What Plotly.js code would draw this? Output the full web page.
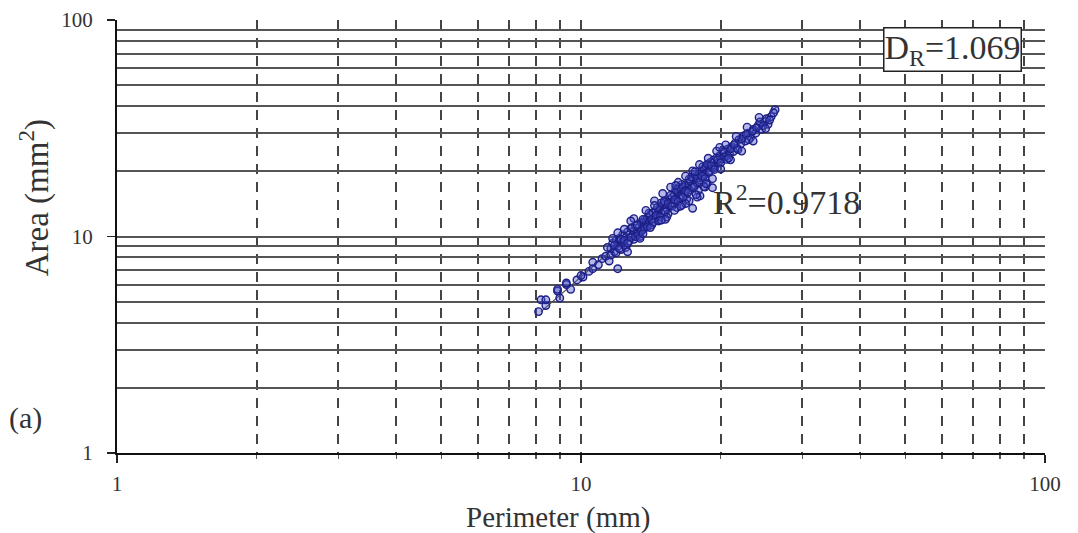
<!DOCTYPE html>
<html>
<head>
<meta charset="utf-8">
<script src="https://cdn.plot.ly/plotly-3.0.1.min.js"></script>
<style>html,body{margin:0;padding:0;background:#fff;}#chart{width:1078px;height:533px;}</style>
</head>
<body>
<div id="chart"></div>
<script>
// Scatter data: perimeter (mm) and area (mm^2)
const perimeter = [
  8.1, 8.2, 8.4, 8.9, 9.0, 9.3, 9.5, 9.8, 10.1, 10.4, 10.6, 10.9, 11.1, 11.3, 11.5,
  11.6, 11.7, 11.8, 11.9, 12.0, 12.0, 12.1, 12.2, 12.3, 12.3, 12.4, 12.5, 12.6, 12.7, 12.8,
  12.9, 13.0, 13.0, 13.1, 13.2, 13.3, 13.4, 13.5, 13.6, 13.7, 13.8, 13.8, 13.9, 14.0, 14.1,
  14.2, 14.3, 14.4, 14.5, 14.6, 14.7, 14.8, 14.9, 15.0, 15.1, 15.2, 15.3, 15.4, 15.5, 15.6,
  15.7, 15.8, 15.9, 16.0, 16.1, 16.2, 16.3, 16.4, 16.5, 16.6, 16.7, 16.8, 16.9, 17.0, 17.1,
  17.2, 17.3, 17.4, 17.5, 17.6, 17.7, 17.8, 17.9, 18.0, 18.05, 18.1, 18.2, 18.3, 18.4, 18.5,
  18.6, 18.7, 18.8, 18.9, 19.0, 19.2, 19.3, 19.5, 19.6, 19.8, 19.9,
  20.1, 20.3, 20.5, 20.7, 20.9, 21.1, 21.3, 21.5, 21.7, 21.9, 22.1, 22.4, 22.6, 22.9, 23.2,
  23.5, 23.8, 24.1, 24.5, 24.9, 25.3, 25.7, 26.2,
  11.4, 11.6, 11.8, 11.9, 12.1, 12.2, 12.4, 12.5, 12.6, 12.8, 12.9, 13.1, 13.2, 13.3, 13.5,
  13.6, 13.7, 13.9, 14.0, 14.2, 14.3, 14.5, 14.6, 14.8, 14.9, 15.1, 15.2, 15.4, 15.6, 15.7,
  15.9, 16.0, 16.2, 16.3, 16.5, 16.6, 16.8, 17.0, 17.1, 17.3, 17.5, 17.6, 17.8, 18.0, 18.2,
  18.3, 18.5, 18.7, 18.9, 19.1, 19.4, 19.7, 20.0, 20.2, 20.6, 21.0, 21.4, 21.8, 22.2, 22.7,
  23.0, 23.4, 23.9, 24.3, 24.7, 25.1, 25.5, 26.0, 19.2, 18.5, 17.8, 8.4, 8.9, 9.3, 10.0, 10.6,
  12.0, 12.6, 13.0, 13.4, 13.8, 14.1, 14.4, 14.7, 15.0, 15.3, 15.6, 15.9, 16.2, 16.5, 16.8,
  17.1, 17.4, 17.7, 18.0, 18.4, 18.8, 19.2, 19.6, 20.0, 20.5, 21.0, 21.6, 22.2, 22.8, 23.5,
  24.2, 25.0, 12.8, 13.6, 14.4, 15.2, 16.0, 16.8, 17.6, 18.6, 12.4, 11.7, 19.9, 20.8, 14.9, 16.4
];
const area = [
  4.5, 5.1, 4.8, 5.6, 5.2, 6.0, 5.7, 6.3, 6.5, 6.9, 7.6, 7.4, 7.9, 8.1, 7.7,
  8.8, 9.3, 8.5, 9.6, 7.1, 9.0, 9.8, 8.7, 9.4, 10.2, 9.1, 9.9, 10.5, 9.5, 10.9,
  10.1, 10.6, 9.7, 11.2, 10.3, 11.0, 10.0, 11.6, 10.8, 11.9, 11.4, 11.7, 12.2, 11.7, 12.6,
  11.3, 12.9, 12.1, 13.2, 12.4, 11.9, 13.6, 12.8, 14.0, 13.1, 14.4, 13.5, 12.7, 14.8, 13.9,
  15.2, 14.3, 15.6, 14.7, 13.6, 16.1, 15.1, 16.5, 15.5, 16.9, 15.9, 17.3, 14.9, 17.6, 16.4,
  18.0, 16.8, 13.5, 18.5, 17.2, 19.0, 17.7, 16.3, 19.4, 15.4, 18.2, 20.0, 18.8, 20.5, 19.3,
  21.0, 17.6, 21.5, 20.1, 22.0, 20.7, 22.6, 21.3, 23.1, 22.0, 23.6,
  22.8, 24.5, 23.4, 25.3, 24.0, 26.0, 24.7, 27.0, 25.6, 28.0, 26.8, 29.1, 27.6, 30.0, 28.7,
  31.2, 30.0, 32.6, 31.3, 34.0, 33.0, 35.8, 38.5,
  8.9, 8.2, 9.1, 8.4, 8.8, 9.7, 9.6, 8.9, 9.3, 9.9, 11.0, 10.0, 11.3, 10.2, 10.6,
  12.0, 10.9, 11.1, 12.8, 12.0, 11.6, 12.5, 13.6, 12.3, 14.3, 14.5, 13.0, 14.2, 15.5, 13.8,
  14.8, 16.5, 14.5, 16.9, 17.4, 15.2, 16.2, 16.0, 18.4, 18.8, 16.9, 19.4, 18.6, 17.8, 19.0,
  21.0, 18.5, 21.6, 19.8, 21.2, 20.4, 22.6, 21.9, 25.0, 22.7, 25.4, 26.5, 25.2, 28.3, 29.6,
  28.0, 30.6, 31.8, 33.8, 32.5, 35.0, 34.5, 37.3, 16.8, 16.9, 15.2, 5.1, 5.7, 6.1, 6.6, 7.1,
  10.4, 8.5, 12.1, 9.8, 13.2, 11.0, 14.6, 11.8, 15.8, 12.3, 16.9, 13.2, 17.8, 14.0, 19.0,
  14.6, 20.1, 15.6, 21.5, 17.0, 23.0, 18.5, 24.8, 20.5, 26.5, 22.6, 29.0, 24.8, 32.0, 27.6,
  35.5, 31.5, 11.8, 10.3, 13.9, 12.0, 17.2, 14.2, 19.9, 17.5, 10.8, 9.8, 25.8, 23.0, 11.9, 13.8
];
// Fitted power-law line (end points)
const fitPerimeter = [8.2, 26.5];
const fitArea = [4.5, 40.0];

// Tick values and labels
const majorTicks = [1, 10, 100];
const majorTickLabels = ['1', '10', '100'];
const minorTicks = [2, 3, 4, 5, 6, 7, 8, 9, 20, 30, 40, 50, 60, 70, 80, 90];

// Text
const xTitle = 'Perimeter (mm)';
const yTitle = 'Area (mm<sup>2</sup>)';
const fractalLabel = 'D<sub>R</sub>=1.069';
const r2Label = 'R<sup>2</sup>=0.9718';
const panelLabel = '(a)';

const serif = 'Liberation Serif, Times New Roman, serif';

const traces = [
  {
    x: fitPerimeter, y: fitArea, type: 'scatter', mode: 'lines',
    line: {color: '#4a4a4a', width: 1.2}, hoverinfo: 'skip', showlegend: false
  },
  {
    x: perimeter, y: area, type: 'scatter', mode: 'markers',
    marker: {symbol: 'circle', size: 7.5, color: 'rgba(70,80,200,0.4)',
             line: {color: '#1d1f86', width: 1.4}},
    showlegend: false
  }
];

const layout = {
  width: 1078, height: 533,
  margin: {l: 117, r: 33, t: 20, b: 80},
  paper_bgcolor: '#ffffff', plot_bgcolor: '#ffffff',
  font: {family: serif, color: '#333', size: 21},
  showlegend: false,
  xaxis: {
    type: 'log', range: [0, 2],
    tickmode: 'array', tickvals: majorTicks, ticktext: majorTickLabels,
    ticks: 'outside', ticklen: 8, tickwidth: 1.5, tickcolor: '#222',
    ticklabelstandoff: 3,
    showline: true, linecolor: '#111', linewidth: 2,
    showgrid: true, gridcolor: '#444', gridwidth: 2, griddash: '10px,8px',
    minor: {tickmode: 'array', tickvals: minorTicks, ticks: 'outside', ticklen: 4,
            tickcolor: '#555', showgrid: true, gridcolor: '#444', gridwidth: 2, griddash: '10px,8px'},
    zeroline: false,
    tickfont: {family: serif, size: 21, color: '#333'}
  },
  yaxis: {
    type: 'log', range: [0, 2],
    tickmode: 'array', tickvals: majorTicks, ticktext: majorTickLabels,
    ticks: 'outside', ticklen: 8, tickwidth: 1.5, tickcolor: '#222',
    ticklabelstandoff: 10,
    showline: true, linecolor: '#111', linewidth: 2,
    showgrid: true, gridcolor: '#555', gridwidth: 2,
    minor: {tickmode: 'array', tickvals: minorTicks, ticks: '', showgrid: true,
            gridcolor: '#555', gridwidth: 2},
    zeroline: false,
    tickfont: {family: serif, size: 21, color: '#333'}
  },
  annotations: [
    {xref: 'paper', yref: 'paper', x: 0.90, y: 0.932, xanchor: 'center', yanchor: 'middle',
     text: fractalLabel, showarrow: false,
     font: {family: serif, size: 34, color: '#333'},
     bgcolor: '#ffffff', bordercolor: '#222', borderwidth: 1.5, borderpad: 0},
    {xref: 'paper', yref: 'paper', x: 0.640, y: 0.584, xanchor: 'left', yanchor: 'middle',
     text: r2Label, showarrow: false,
     font: {family: serif, size: 34, color: '#333'}},
    {xref: 'paper', yref: 'paper', x: -0.118, y: 0.081, xanchor: 'left', yanchor: 'middle',
     text: panelLabel, showarrow: false,
     font: {family: serif, size: 30, color: '#333'}},
    {xref: 'paper', yref: 'paper', x: 0.475, y: -0.106, xanchor: 'center', yanchor: 'top',
     text: xTitle, showarrow: false,
     font: {family: serif, size: 29, color: '#333'}},
    {xref: 'paper', yref: 'paper', x: -0.088, y: 0.589, xanchor: 'center', yanchor: 'middle',
     text: yTitle, showarrow: false, textangle: -90,
     font: {family: serif, size: 33, color: '#333'}}
  ]
};

Plotly.newPlot('chart', traces, layout, {displayModeBar: false, staticPlot: true});
</script>
</body>
</html>
